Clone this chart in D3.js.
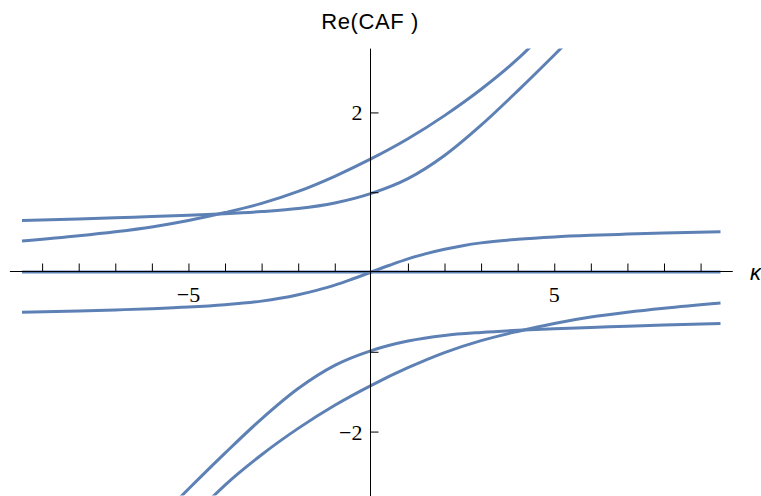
<!DOCTYPE html>
<html>
<head>
<meta charset="utf-8">
<script src="https://cdn.jsdelivr.net/npm/d3@7"></script>
<style>
  body { margin: 0; background: #fff; }
  .num { font-family: "Liberation Serif", serif; font-size: 22px; fill: #000; }
</style>
</head>
<body>
<div id="chart"></div>
<script>
// values
let kA = [-9.55, -8, -7, -6, -5, -4, -3, -2, -1, 0, 1, 2, 3, 4, 4.5];
let curveA = [0.39, 0.455, 0.505, 0.565, 0.645, 0.745, 0.86, 1.01, 1.2, 1.42, 1.67, 1.96, 2.29, 2.67, 2.89];
let kB = [-9.55, -8, -7, -6, -5, -4, -3, -2, -1, 0, 1, 2, 3, 4, 5, 5.5];
let curveB = [0.645, 0.665, 0.68, 0.695, 0.71, 0.73, 0.757, 0.795, 0.865, 0.985, 1.17, 1.46, 1.84, 2.27, 2.72, 2.95];
let kC = [-9.55, -8, -7, -6, -5, -4, -3, -2.5, -2, -1.5, -1, -0.5, 0, 0.5, 1, 1.5, 2, 2.5, 3, 4, 5, 6, 7, 8, 9.55];
let curveC = [-0.503, -0.488, -0.475, -0.46, -0.44, -0.41, -0.365, -0.33, -0.285, -0.23, -0.165, -0.085, 0,
              0.085, 0.165, 0.23, 0.285, 0.33, 0.365, 0.41, 0.44, 0.46, 0.475, 0.488, 0.503];
let kD = [-4.5, -4, -3, -2, -1, 0, 1, 2, 3, 4, 5, 6, 7, 8, 9.55];
let curveD = [-2.89, -2.67, -2.29, -1.96, -1.67, -1.42, -1.2, -1.01, -0.86, -0.745, -0.645, -0.565, -0.505, -0.455, -0.39];
let kE = [-5.5, -5, -4, -3, -2, -1, 0, 1, 2, 3, 4, 5, 6, 7, 8, 9.55];
let curveE = [-2.95, -2.72, -2.27, -1.84, -1.46, -1.17, -0.985, -0.865, -0.795, -0.757, -0.73, -0.71, -0.695, -0.68, -0.665, -0.645];
let kZero = [-9.55, 9.55];
let curveZero = [0, 0];

let xMinorTicks = [-9, -8, -7, -6, -5, -4, -3, -2, -1, 1, 2, 3, 4, 5, 6, 7, 8, 9];
let xLabels = [-5, 5];
let yTicks = [-2, -1, 1, 2];
let yLabels = [-2, 2];

const width = 761, height = 496;
const blue = '#5e81b5';

let svg = d3.select('#chart').append('svg')
    .attr('width', width)
    .attr('height', height);

let x = d3.scaleLinear().domain([-9.55, 9.55]).range([22, 720.7]);
let y = d3.scaleLinear().domain([-2.8, 2.8]).range([495.4, 48.6]);

svg.append('clipPath').attr('id', 'plotClip')
    .append('rect')
    .attr('x', x(-9.55)).attr('y', y(2.8))
    .attr('width', x(9.55) - x(-9.55))
    .attr('height', y(-2.8) - y(2.8));

let series = [
    [kZero, curveZero],
    [kC, curveC],
    [kA, curveA],
    [kB, curveB],
    [kD, curveD],
    [kE, curveE]
];

let line = d3.line()
    .x(d => x(d[0]))
    .y(d => y(d[1]))
    .curve(d3.curveMonotoneX);

svg.append('g').attr('clip-path', 'url(#plotClip)')
    .selectAll('.curve')
    .data(series)
    .enter().append('path')
    .attr('class', 'curve')
    .attr('d', s => line(d3.zip(s[0], s[1])))
    .attr('fill', 'none')
    .attr('stroke', blue)
    .attr('stroke-width', 3);

let y0 = Math.round(y(0)) - 0.5;
let x0 = Math.round(x(0)) - 0.5;

// x axis
svg.append('line')
    .attr('x1', x(-9.88)).attr('x2', x(9.88))
    .attr('y1', y0).attr('y2', y0)
    .attr('stroke', '#000').attr('stroke-width', 1);

let xTickAxis = d3.axisTop(x).tickValues(xMinorTicks).tickSize(8).tickFormat('');
svg.append('g')
    .attr('transform', `translate(0,${y0})`)
    .call(xTickAxis)
    .call(g => g.select('.domain').remove())
    .call(g => g.selectAll('line').attr('stroke', '#000').attr('stroke-width', 1));

svg.append('g').selectAll('.xlab')
    .data(xLabels)
    .enter().append('text')
    .attr('class', 'num')
    .attr('x', d => x(d))
    .attr('y', 302)
    .attr('text-anchor', 'middle')
    .text(d => d3.format('d')(d));

// y axis
svg.append('line')
    .attr('x1', x0).attr('x2', x0)
    .attr('y1', y(2.8)).attr('y2', height)
    .attr('stroke', '#000').attr('stroke-width', 1);

let yTickAxis = d3.axisRight(y).tickValues(yTicks).tickSize(8).tickFormat('');
svg.append('g')
    .attr('transform', `translate(${x0},0)`)
    .call(yTickAxis)
    .call(g => g.select('.domain').remove())
    .call(g => g.selectAll('line').attr('stroke', '#000').attr('stroke-width', 1));

svg.append('g').selectAll('.ylab')
    .data(yLabels)
    .enter().append('text')
    .attr('class', 'num')
    .attr('x', x0 - 8)
    .attr('y', d => y(d) + 8)
    .attr('text-anchor', 'end')
    .text(d => d3.format('d')(d));

// axis labels
svg.append('text')
    .attr('x', 370)
    .attr('y', 29)
    .attr('text-anchor', 'middle')
    .style('font-family', '"Liberation Sans", Arial, sans-serif')
    .style('font-size', '22px')
    .style('letter-spacing', '0.6px')
    .text('Re(CAF )');

svg.append('text')
    .attr('x', 750)
    .attr('y', 280)
    .style('font-family', '"Liberation Sans", Arial, sans-serif')
    .style('font-size', '22px')
    .style('font-style', 'italic')
    .text('κ');
</script>
</body>
</html>
